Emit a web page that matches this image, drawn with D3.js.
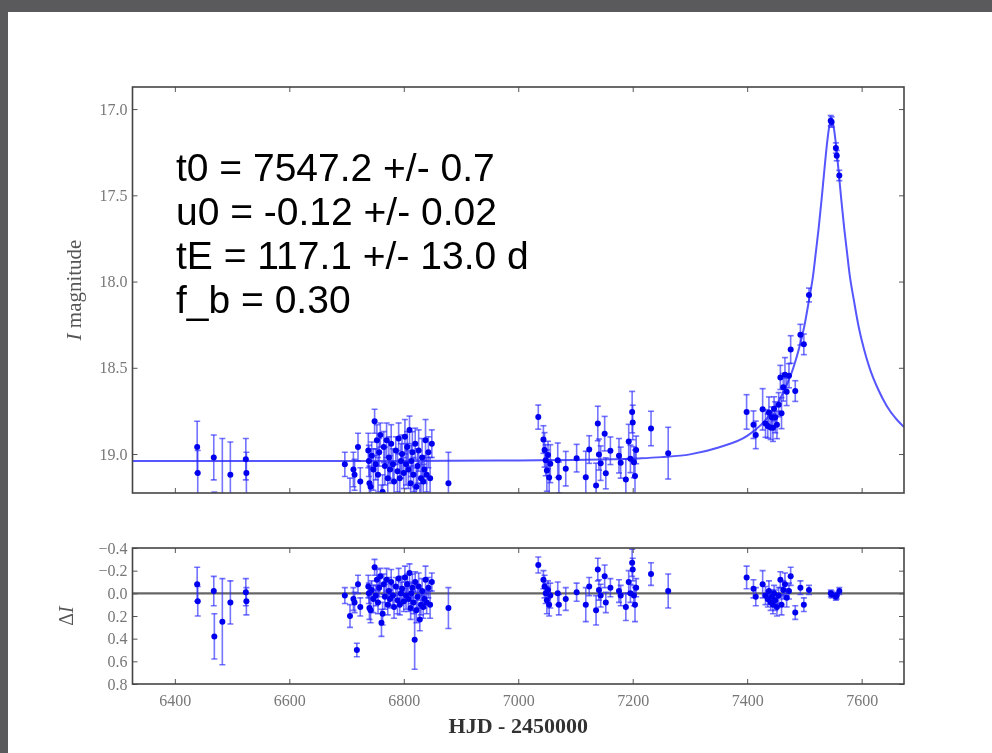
<!DOCTYPE html>
<html><head><meta charset="utf-8">
<script src="https://cdn.jsdelivr.net/npm/d3@7"></script>
<style>body{margin:0;background:#fff;} svg{display:block}</style>
</head><body>
<svg id="c" width="992" height="753"></svg>
<script>
// ---- data ----
const hjd = [6439,6440,6468,6469,6483,6497,6524,6525,
 6697,6706,6712,6714,6718,6720,6724,6738,6739,6740,6742,6744,6747,6749,6751,6753,6755,6757,6759,6761,6763,6765,6767,6770,6772,6774,6776,6778,6781,6783,6786,6789,6791,6793,6795,6797,6800,6802,6804,6806,6808,6810,6812,6813,6815,6817,6819,6820,6822,6824,6826,6828,6830,6832,6834,6836,6838,6840,6843,6846,6849,6878,
 7035,7044,7046,7048,7050,7052,7054,7056,7069,7071,7083,7102,7118,7124,7136,7139,7141,7144,7151,7153,7161,7176,7179,7188,7193,7196,7199,7200,7202,7204,7206,7232,7262,
 7399,7411,7415,7427,7432,7436,7438,7441,7443,7445,7447,7449,7452,7455,7458,7460,7463,7466,7469,7473,7476,7484,7493,7499,7508,7546,7547.5,7555,7556.5,7561];
const mag = [18.96,19.11,19.02,19.42,19.29,19.12,19.03,19.11,
 19.06,19.24,19.09,19.12,19.54,18.96,19.16,18.98,19.04,19.17,19.19,19.01,19.09,18.81,19.06,18.92,19.12,18.99,18.89,19.30,19.22,18.96,19.07,18.92,19.14,19.02,19.09,18.94,19.06,19.16,18.98,19.10,18.91,19.14,19.04,19.00,19.11,18.90,19.06,18.96,19.09,18.86,19.17,19.04,18.99,19.12,19.45,18.94,19.19,19.07,18.98,19.27,19.14,19.02,19.16,19.09,18.92,19.12,18.99,19.14,18.94,19.17,
 18.786,18.916,18.976,19.036,19.096,19.006,19.136,19.056,19.036,19.136,19.085,19.024,19.134,18.974,19.183,18.823,19.003,19.053,18.882,19.112,18.981,19.01,19.05,19.148,18.928,19.028,18.757,18.817,19.047,19.127,18.976,18.852,18.995,
 18.756,18.830,18.889,18.741,18.823,18.838,18.759,18.846,18.787,18.847,18.738,18.787,18.831,18.714,18.556,18.763,18.613,18.541,18.639,18.546,18.394,18.635,18.308,18.364,18.078,17.067,17.075,17.226,17.270,17.385];
const magErr = [0.15,0.13,0.13,0.20,0.38,0.19,0.12,0.12,
 0.07,0.10,0.10,0.09,0.06,0.08,0.08,0.10,0.09,0.10,0.11,0.08,0.12,0.07,0.09,0.09,0.10,0.08,0.07,0.12,0.10,0.09,0.11,0.10,0.09,0.12,0.08,0.11,0.09,0.10,0.08,0.12,0.09,0.09,0.10,0.11,0.09,0.10,0.12,0.09,0.11,0.08,0.10,0.09,0.12,0.10,0.26,0.09,0.11,0.10,0.12,0.10,0.09,0.11,0.10,0.08,0.12,0.10,0.09,0.12,0.08,0.18,
 0.07,0.08,0.10,0.09,0.12,0.08,0.10,0.11,0.10,0.09,0.10,0.08,0.15,0.08,0.13,0.10,0.09,0.10,0.10,0.09,0.08,0.10,0.09,0.12,0.10,0.08,0.12,0.10,0.09,0.15,0.08,0.10,0.15,
 0.10,0.08,0.08,0.12,0.08,0.07,0.09,0.07,0.06,0.08,0.07,0.09,0.08,0.07,0.07,0.09,0.08,0.10,0.08,0.07,0.08,0.06,0.06,0.06,0.04,0.03,0.03,0.03,0.03,0.03];
const resid = [-0.08,0.07,-0.02,0.38,0.25,0.08,-0.01,0.07,
 0.02,0.20,0.05,0.08,0.50,-0.08,0.12,-0.06,0.00,0.13,0.15,-0.03,0.05,-0.23,0.02,-0.12,0.08,-0.05,-0.15,0.26,0.18,-0.08,0.03,-0.12,0.10,-0.02,0.05,-0.10,0.02,0.12,-0.06,0.06,-0.13,0.10,0.00,-0.04,0.07,-0.14,0.02,-0.08,0.05,-0.18,0.13,0.00,-0.05,0.08,0.41,-0.10,0.15,0.03,-0.06,0.23,0.10,-0.02,0.12,0.05,-0.12,0.08,-0.05,0.10,-0.10,0.13,
 -0.25,-0.12,-0.06,0.00,0.06,-0.03,0.10,0.02,0.00,0.10,0.05,-0.01,0.10,-0.06,0.15,-0.21,-0.03,0.02,-0.15,0.08,-0.05,-0.02,0.02,0.12,-0.10,0.00,-0.27,-0.21,0.02,0.10,-0.05,-0.17,-0.02,
 -0.14,-0.04,0.03,-0.08,0.02,0.05,-0.02,0.08,0.03,0.10,0.00,0.06,0.12,0.02,-0.12,0.10,-0.03,-0.08,0.04,-0.02,-0.15,0.17,-0.05,0.10,-0.03,0.00,0.01,0.03,0.02,-0.02];
const modelT = [6326,6800,7000,7100,7200,7250,7300,7350,7400,7425,7450,7465,7480,7490,7500,7508,7515,7520,7525,7530,7535,7540,7543,7545,7547.2,7549.4,7551.4,7554.4,7559.4,7564.4,7569.4,7574.4,7579.4,7586.4,7594.4,7604.4,7614.4,7629.4,7644.4,7674];
const modelMag = [19.04,19.04,19.037,19.034,19.027,19.018,19.002,18.962,18.895,18.828,18.725,18.629,18.506,18.396,18.256,18.108,17.969,17.830,17.687,17.524,17.349,17.185,17.109,17.078,17.065,17.078,17.109,17.185,17.349,17.524,17.687,17.830,17.969,18.108,18.256,18.396,18.506,18.629,18.725,18.844];
const xTicks = [6400,6600,6800,7000,7200,7400,7600];
const magTicks = [17.0,17.5,18.0,18.5,19.0];
const resTicks = [-0.4,-0.2,0.0,0.2,0.4,0.6,0.8];
const fitText = ["t0 = 7547.2 +/- 0.7","u0 = -0.12 +/- 0.02","tE = 117.1 +/- 13.0 d","f_b = 0.30"];
const xLabel = "HJD - 2450000";

// ---- drawing ----
const svg = d3.select("#c");
svg.append("rect").attr("x",0).attr("y",0).attr("width",992).attr("height",753).attr("fill","#fff");
svg.append("rect").attr("x",0).attr("y",0).attr("width",992).attr("height",12).attr("fill","#5a5a5c");
svg.append("rect").attr("x",0).attr("y",0).attr("width",8).attr("height",753).attr("fill","#5a5a5c");

const defs = svg.append("defs");
defs.append("filter").attr("id","soft").append("feGaussianBlur").attr("stdDeviation",0.6);

const L=132.5,R=904, MT=87,MB=493, RT=548,RB=684;
const x = d3.scaleLinear().domain([6326,7674]).range([L,R]);
const yM = d3.scaleLinear().domain([16.872,19.226]).range([MT,MB]);
const yR = d3.scaleLinear().domain([-0.4,0.8]).range([RT,RB]);

defs.append("clipPath").attr("id","cm").append("rect").attr("x",L).attr("y",MT).attr("width",R-L).attr("height",MB-MT);
defs.append("clipPath").attr("id","cr").append("rect").attr("x",L).attr("y",RT).attr("width",R-L).attr("height",RB-RT);

const idx = d3.range(hjd.length);
const tickFont = "'Liberation Serif', 'DejaVu Serif', serif";

function frame(g, top, bottom, yScale, yTicks, fmt, showX){
  const tk = 5;
  const ax = g.append("g").attr("transform",`translate(0,${bottom})`)
    .call(d3.axisBottom(x).tickValues(xTicks).tickSize(-tk).tickPadding(11).tickFormat(showX? d3.format("d") : ""));
  const axT = g.append("g").attr("transform",`translate(0,${top})`)
    .call(d3.axisTop(x).tickValues(xTicks).tickSize(-tk).tickFormat(""));
  const ayL = g.append("g").attr("transform",`translate(${L},0)`)
    .call(d3.axisLeft(yScale).tickValues(yTicks).tickSize(-tk).tickPadding(5).tickFormat(fmt));
  const ayR = g.append("g").attr("transform",`translate(${R},0)`)
    .call(d3.axisRight(yScale).tickValues(yTicks).tickSize(-tk).tickFormat(""));
  [ax,axT,ayL,ayR].forEach(a=>{
    a.select(".domain").remove();
    a.selectAll(".tick line").attr("stroke","#555").attr("stroke-width",1);
    a.selectAll("text").attr("fill","#777").style("font-family",tickFont).style("font-size","16px");
  });
  g.append("rect").attr("x",L).attr("y",top).attr("width",R-L).attr("height",bottom-top)
    .attr("fill","none").attr("stroke","#444").attr("stroke-width",1.6);
}

const plot = svg.append("g").attr("filter","url(#soft)");

// ---- main panel ----
const gm = plot.append("g").attr("clip-path","url(#cm)");
gm.append("path").datum(d3.range(modelT.length))
  .attr("d", d3.line().x(i=>x(modelT[i])).y(i=>yM(modelMag[i])).curve(d3.curveMonotoneX))
  .attr("fill","none").attr("stroke","#2a2aff").attr("stroke-opacity",0.8).attr("stroke-width",2);

function errbars(g, yScale, val){
  const eb = g.append("g").attr("stroke","#2828ff").attr("stroke-opacity",0.65).attr("stroke-width",1.6);
  eb.selectAll("line.v").data(idx).join("line").attr("class","v")
    .attr("x1",i=>x(hjd[i])).attr("x2",i=>x(hjd[i]))
    .attr("y1",i=>yScale(val(i)-magErr[i])).attr("y2",i=>yScale(val(i)+magErr[i]));
  eb.selectAll("line.t").data(idx).join("line").attr("class","t")
    .attr("x1",i=>x(hjd[i])-3).attr("x2",i=>x(hjd[i])+3)
    .attr("y1",i=>yScale(val(i)-magErr[i])).attr("y2",i=>yScale(val(i)-magErr[i]));
  eb.selectAll("line.b").data(idx).join("line").attr("class","b")
    .attr("x1",i=>x(hjd[i])-3).attr("x2",i=>x(hjd[i])+3)
    .attr("y1",i=>yScale(val(i)+magErr[i])).attr("y2",i=>yScale(val(i)+magErr[i]));
  g.append("g").selectAll("circle").data(idx).join("circle")
    .attr("cx",i=>x(hjd[i])).attr("cy",i=>yScale(val(i))).attr("r",3).attr("fill","#0000ee");
}
errbars(gm, yM, i=>mag[i]);
frame(plot, MT, MB, yM, magTicks, d3.format(".1f"), false);

// ---- residual panel ----
const gr = plot.append("g").attr("clip-path","url(#cr)");
gr.append("line").attr("x1",L).attr("x2",R).attr("y1",yR(0)).attr("y2",yR(0))
  .attr("stroke","#333").attr("stroke-opacity",0.75).attr("stroke-width",2.4);
errbars(gr, yR, i=>resid[i]);
frame(plot, RT, RB, yR, resTicks, v=>d3.format(".1f")(v).replace("-","\u2212"), true);

// axis labels
const yl = plot.append("text").attr("transform",`translate(74,${(MT+MB)/2}) rotate(-90)`)
  .attr("text-anchor","middle").attr("dominant-baseline","central")
  .style("font-family",tickFont).style("font-size","21px").attr("fill","#555");
yl.append("tspan").style("font-style","italic").text("I");
yl.append("tspan").text(" magnitude");
const rl = plot.append("text").attr("transform",`translate(66,${(RT+RB)/2}) rotate(-90)`)
  .attr("text-anchor","middle").attr("dominant-baseline","central")
  .style("font-family",tickFont).style("font-size","20px").attr("fill","#555");
rl.append("tspan").text("\u0394");
rl.append("tspan").style("font-style","italic").text("I");
plot.append("text").attr("x",(L+R)/2).attr("y",733).attr("text-anchor","middle")
  .style("font-family",tickFont).style("font-size","22px").style("font-weight","bold").attr("fill","#333").text(xLabel);

// fit annotation (crisp)
svg.append("g").selectAll("text").data(fitText).join("text")
  .attr("x",176).attr("y",(d,i)=>181+i*44)
  .style("font-family","'Liberation Sans', Arial, sans-serif").style("font-size","39px").attr("fill","#000")
  .text(d=>d);
</script>
</body></html>
